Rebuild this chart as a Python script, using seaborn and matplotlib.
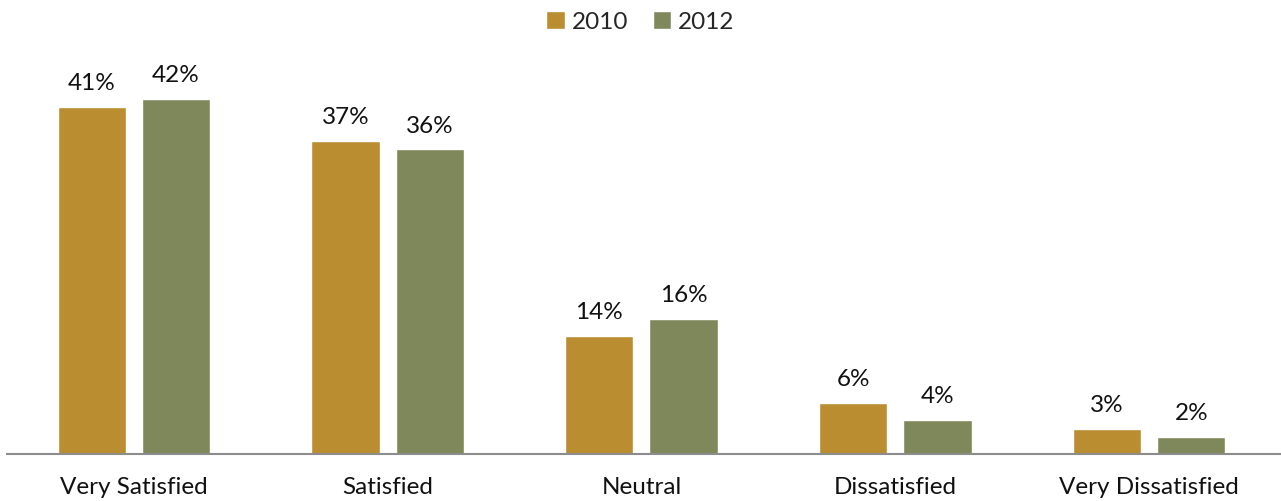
import matplotlib
matplotlib.use("Agg")
import matplotlib.pyplot as plt
import seaborn as sns
import pandas as pd

categories = ["Very Satisfied", "Satisfied", "Neutral", "Dissatisfied", "Very Dissatisfied"]
years = ["2010", "2012"]
values_2010 = [41, 37, 14, 6, 3]
values_2012 = [42, 36, 16, 4, 2]

df = pd.DataFrame({
    "category": categories * 2,
    "year": [years[0]] * len(categories) + [years[1]] * len(categories),
    "value": values_2010 + values_2012,
})

sns.set_theme(style="white")
plt.rcParams["font.family"] = ["Lato", "DejaVu Sans"]

fig = plt.figure(figsize=(12.81, 5.02), dpi=100)
ax = fig.add_axes([7 / 1281, (502 - 455) / 502, 1274 / 1281, 380.7 / 502])

palette = {"2010": "#BA8E30", "2012": "#7F885A"}
sns.barplot(data=df, x="category", y="value", hue="year", order=categories,
            hue_order=years, palette=palette, width=0.665, gap=0.19,
            saturation=1, ax=ax, legend=True)

for cont in ax.containers:
    ax.bar_label(cont, labels=[f"{v:.0f}%" for v in cont.datavalues],
                 padding=10, fontsize=17.5, color="#111111")

ax.set_xlim(-0.5, 4.52)
ax.set_ylim(0, 45)
ax.set_xlabel("")
ax.set_ylabel("")
ax.set_yticks([])
ax.tick_params(axis="x", length=0, pad=16, labelsize=17.5, labelcolor="#111111")
for s in ["top", "right", "left"]:
    ax.spines[s].set_visible(False)
ax.spines["bottom"].set_color("#8C8C8C")
ax.spines["bottom"].set_linewidth(1.5)

handles, labels = ax.get_legend_handles_labels()
ax.get_legend().remove()
fig.legend(handles, labels, loc="upper center", bbox_to_anchor=(0.5, 1.02),
           ncol=2, frameon=False, fontsize=17.5, handlelength=0.75,
           handleheight=0.75, handletextpad=0.3, columnspacing=1.0)

fig.savefig("out.png", dpi=100)
